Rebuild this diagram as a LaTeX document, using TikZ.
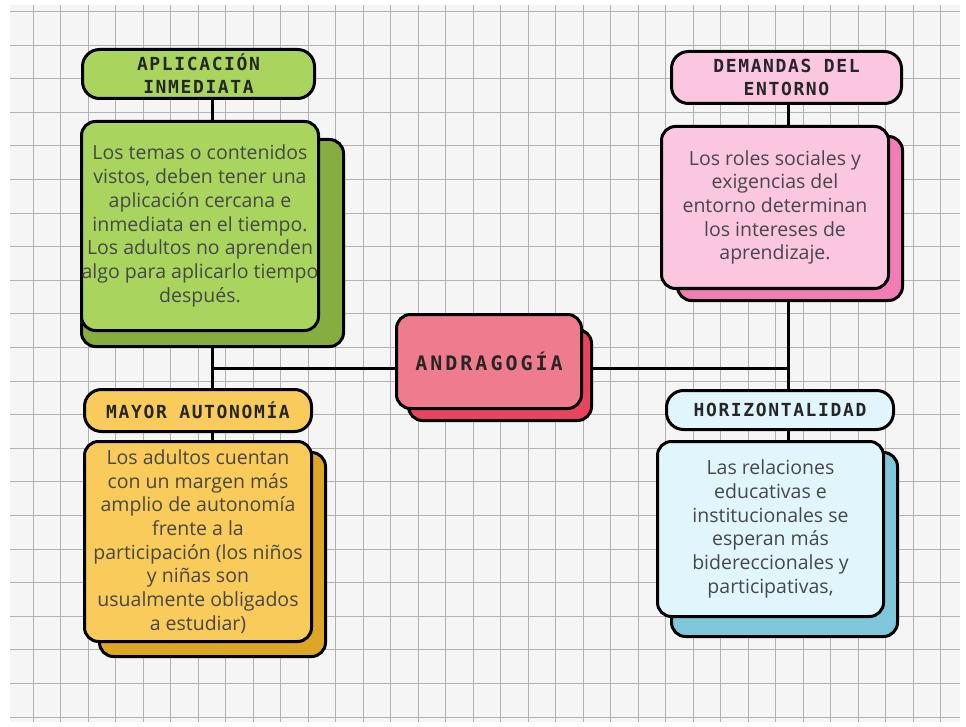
\documentclass[tikz,border=0pt]{standalone}
\usepackage{fontspec}
\setmainfont{Open Sans}
\newfontfamily\titlefont[LetterSpace=9]{DejaVu Sans Mono}
\newfontfamily\mainfont[LetterSpace=15]{DejaVu Sans Mono}
\usetikzlibrary{backgrounds}

\definecolor{grA}{HTML}{A9D55F}
\definecolor{grB}{HTML}{86AD40}
\definecolor{piA}{HTML}{FBC6DF}
\definecolor{piB}{HTML}{F27DB5}
\definecolor{reA}{HTML}{EE7C8E}
\definecolor{reB}{HTML}{E8445F}
\definecolor{yeA}{HTML}{F9CB5A}
\definecolor{yeB}{HTML}{DDA624}
\definecolor{blA}{HTML}{E0F6FC}
\definecolor{blB}{HTML}{7FC8DB}
\definecolor{paper}{HTML}{F5F5F5}

\tikzset{
	titel/.style={draw, line width=3pt, rounded corners=17pt, align=center,
		font=\titlefont\bfseries\fontsize{18}{23}\selectfont, text=black!85, inner sep=0pt},
	front/.style={draw, line width=3pt, rounded corners=14pt, align=center,
		font=\fontsize{19.5}{23.7}\selectfont, text=black!72, inner sep=0pt},
	shadow/.style={draw, line width=3pt, rounded corners=14pt, inner sep=0pt},
	link/.style={line width=3pt},
	gridline/.style={gray!60, line width=0.7pt},
}

\pgfdeclarelayer{paper}
\pgfdeclarelayer{links}
\pgfsetlayers{paper,links,main}

\begin{document}
\begin{tikzpicture}[x=1pt, y=-1pt]

\useasboundingbox (0,0) rectangle (966,727);

%Papier
\begin{pgfonlayer}{paper}
	\fill[paper] (10,5) rectangle (960,722);
	\foreach \i in {0,...,33}{
		\draw[gridline] (33+\i*27.5,5) -- ++(0,717);
	}
	\foreach \j in {0,...,21}{
		\draw[gridline] (10,11.4+\j*33.6) -- ++(950,0);
	}
\end{pgfonlayer}

%Schatten
\node[shadow, fill=grB, minimum width=262pt, minimum height=207pt] (sA) at (212.5,243) {};
\node[shadow, fill=piB, minimum width=225pt, minimum height=164pt] (sD) at (790,218.5) {};
\node[shadow, fill=reB, minimum width=183pt, minimum height=91pt]  (sM) at (500,375) {};
\node[shadow, fill=yeB, minimum width=226pt, minimum height=204pt] (sY) at (212.5,554.5) {};
\node[shadow, fill=blB, minimum width=226pt, minimum height=184pt] (sH) at (784.5,544.5) {};

%Knoten
\node[titel, fill=grA, minimum width=232pt, minimum height=49pt] (tA) at (198.5,74)
	{APLICACIÓN\\INMEDIATA};
\node[front, fill=grA, minimum width=237pt, minimum height=209pt] (bA) at (200,226)
	{Los temas o contenidos\\vistos, deben tener una\\aplicación cercana e\\inmediata en el tiempo.\\Los adultos no aprenden\\algo para aplicarlo tiempo\\después.};

\node[titel, fill=piA, minimum width=230pt, minimum height=52pt] (tD) at (786.5,77.5)
	{DEMANDAS DEL\\ENTORNO};
\node[front, fill=piA, minimum width=227pt, minimum height=162pt] (bD) at (775,207.5)
	{Los roles sociales y\\exigencias del\\entorno determinan\\los intereses de\\aprendizaje.};

\node[titel, fill=reA, rounded corners=14pt, minimum width=185pt, minimum height=94pt,
	font=\mainfont\bfseries\fontsize{20}{24}\selectfont] (M) at (489,361.5) {ANDRAGOGÍA};

\node[titel, fill=yeA, minimum width=227pt, minimum height=42pt] (tY) at (198,410.5)
	{MAYOR AUTONOMÍA};
\node[front, fill=yeA, minimum width=227pt, minimum height=200pt] (bY) at (198,541.5)
	{Los adultos cuentan\\con un margen más\\amplio de autonomía\\frente a la\\participación (los niños\\y niñas son\\usualmente obligados\\a estudiar)};

\node[titel, fill=blA, minimum width=227pt, minimum height=39pt] (tH) at (780,410)
	{HORIZONTALIDAD};
\node[front, fill=blA, minimum width=226pt, minimum height=175pt] (bH) at (770.5,529)
	{Las relaciones\\educativas e\\institucionales se\\esperan más\\bidereccionales y\\participativas,};

%Verbindungen
\coordinate (jl) at (212,368);
\coordinate (jr) at (788,368);
\begin{pgfonlayer}{links}
	\draw[link] (tA.south -| jl) -- (tY.north -| jl);
	\draw[link] (tY.south -| jl) -- (bY.north -| jl);
	\draw[link] (jl) -- (M.west |- jl);
	\draw[link] (sM.east |- jr) -- (jr);
	\draw[link] (tD.south -| jr) -- (tH.north -| jr);
	\draw[link] (tH.south -| jr) -- (bH.north -| jr);
\end{pgfonlayer}

\end{tikzpicture}
\end{document}
